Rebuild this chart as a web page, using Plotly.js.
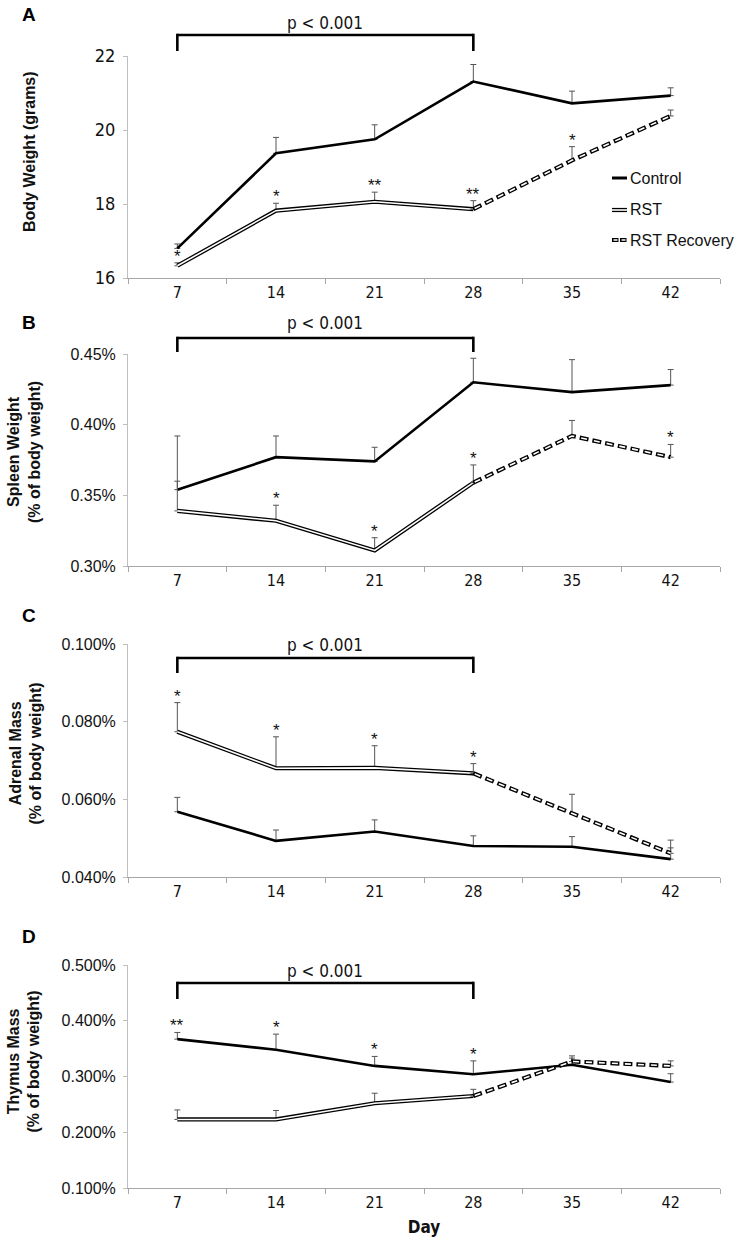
<!DOCTYPE html>
<html>
<head>
<meta charset="utf-8">
<script src="https://cdn.plot.ly/plotly-3.0.1.min.js"></script>
<style>
  html, body { margin: 0; padding: 0; background: #fff; }
  #chart { width: 738px; height: 1240px; }
</style>
</head>
<body>
<div id="chart"></div>
<script>
// Days on the x axis; RST runs to day 28, recovery from 28 on
const days = ['7', '14', '21', '28', '35', '42'];
const rstDays = ['7', '14', '21', '28'];
const recDays = ['28', '35', '42'];

// A - body weight (grams), mean and upper SEM
const bwControl = [16.80, 19.37, 19.75, 21.31, 20.72, 20.93];
const bwControlErr = [0.12, 0.43, 0.39, 0.46, 0.33, 0.21];
const bwRst = [16.33, 17.82, 18.06, 17.86];
const bwRstErr = [0.08, 0.20, 0.26, 0.23];
const bwRec = [17.86, 19.18, 20.38];
const bwRecErr = [null, 0.37, 0.16];
const bwStarRst = ['*', '*', '**', '**'];
const bwStarRec = ['', '*', ''];
const bwStarControl = ['', '', '', '', '', ''];

// B - spleen weight (% of body weight)
const spControl = [0.354, 0.377, 0.374, 0.430, 0.423, 0.428];
const spControlErr = [0.038, 0.015, 0.010, 0.017, 0.023, 0.011];
const spRst = [0.339, 0.332, 0.311, 0.359];
const spRstErr = [0.021, 0.011, 0.009, 0.0125];
const spRec = [0.359, 0.392, 0.377];
const spRecErr = [null, 0.011, 0.009];
const spStarRst = ['', '*', '*', '*'];
const spStarRec = ['', '', '*'];
const spStarControl = ['', '', '', '', '', ''];

// C - adrenal mass (% of body weight)
const adControl = [0.0568, 0.0493, 0.0517, 0.0480, 0.0478, 0.0446];
const adControlErr = [0.0037, 0.0028, 0.0030, 0.0026, 0.0026, 0.0029];
const adRst = [0.0774, 0.0680, 0.0681, 0.0667];
const adRstErr = [0.0075, 0.0081, 0.0057, 0.0025];
const adRec = [0.0667, 0.0565, 0.0461];
const adRecErr = [null, 0.0048, 0.0034];
const adStarRst = ['*', '*', '*', '*'];
const adStarRec = ['', '', ''];
const adStarControl = ['', '', '', '', '', ''];

// D - thymus mass (% of body weight)
const thControl = [0.367, 0.348, 0.319, 0.304, 0.321, 0.290];
const thControlErr = [0.012, 0.028, 0.017, 0.024, 0.012, 0.015];
const thRst = [0.223, 0.223, 0.252, 0.265];
const thRstErr = [0.017, 0.016, 0.018, 0.012];
const thRec = [0.265, 0.327, 0.319];
const thRecErr = [null, 0.010, 0.009];
const thStarRst = ['', '', '', ''];
const thStarRec = ['', '', ''];
const thStarControl = ['**', '*', '*', '*', '', ''];

const seriesNames = ['Control', 'RST', 'RST Recovery'];

const W = 738, H = 1240;
const M = { l: 128, r: 18, t: 56, b: 52 };
const plotW = W - M.l - M.r;
const plotH = H - M.t - M.b;
const px = p => (p - M.l) / plotW;          // pixel x -> paper
const py = p => (H - M.b - p) / plotH;       // pixel y -> paper

const narrow = '"Liberation Sans Narrow", "Arial Narrow", "DejaVu Sans Condensed", sans-serif';
const arial = '"Liberation Sans", Arial, sans-serif';
const ink = '#111';
const axisGray = '#a6a6a6';
const errGray = '#555';

const panels = [
  { letter: 'A', top: 56, bottom: 278, range: [16, 22], dtick: 2, fmt: 'd', suffix: '',
    tickFont: { family: narrow, size: 18, color: ink },
    title: 'Body Weight (grams)', titleX: -98, titleDy: 15, letterDy: 42,
    bracket: [21, 5], pDy: 33,
    ctrl: bwControl, ctrlErr: bwControlErr, rst: bwRst, rstErr: bwRstErr, rec: bwRec, recErr: bwRecErr,
    starC: bwStarControl, starR: bwStarRst, starV: bwStarRec },
  { letter: 'B', top: 354, bottom: 566, range: [0.30, 0.45], dtick: 0.05, fmt: '.2f', suffix: '%',
    tickFont: { family: arial, size: 16, color: ink },
    title: 'Spleen Weight<br>(% of body weight)', titleX: -104, titleDy: 8, letterDy: 32,
    bracket: [16, 2], pDy: 31,
    ctrl: spControl, ctrlErr: spControlErr, rst: spRst, rstErr: spRstErr, rec: spRec, recErr: spRecErr,
    starC: spStarControl, starR: spStarRst, starV: spStarRec },
  { letter: 'C', top: 644, bottom: 877, range: [0.04, 0.10], dtick: 0.02, fmt: '.3f', suffix: '%',
    tickFont: { family: arial, size: 16, color: ink },
    title: 'Adrenal Mass<br>(% of body weight)', titleX: -103, titleDy: 7, letterDy: 29,
    bracket: [-14, -29], pDy: -1,
    ctrl: adControl, ctrlErr: adControlErr, rst: adRst, rstErr: adRstErr, rec: adRec, recErr: adRecErr,
    starC: adStarControl, starR: adStarRst, starV: adStarRec },
  { letter: 'D', top: 965, bottom: 1188, range: [0.1, 0.5], dtick: 0.1, fmt: '.3f', suffix: '%',
    tickFont: { family: arial, size: 16, color: ink },
    title: 'Thymus Mass<br>(% of body weight)', titleX: -105, titleDy: 15, letterDy: 28,
    bracket: [-18, -34], pDy: -6,
    ctrl: thControl, ctrlErr: thControlErr, rst: thRst, rstErr: thRstErr, rec: thRec, recErr: thRecErr,
    starC: thStarControl, starR: thStarRst, starV: thStarRec }
];

function errBars(arr) {
  return {
    type: 'data', symmetric: false, array: arr,
    arrayminus: arr.map(v => (v == null ? null : 0)),
    color: errGray, thickness: 1, width: 3
  };
}

const traces = [];
const layout = {
  width: W, height: H, margin: M,
  paper_bgcolor: '#fff', plot_bgcolor: '#fff',
  showlegend: false,
  font: { family: arial, color: ink },
  annotations: [], shapes: []
};

panels.forEach((p, i) => {
  const s = i === 0 ? '' : String(i + 1);
  const xa = 'x' + s, ya = 'y' + s;

  traces.push({
    x: days, y: p.ctrl, xaxis: xa, yaxis: ya, type: 'scatter', mode: 'lines',
    line: { color: '#000', width: 2.6 }, error_y: errBars(p.ctrlErr), hoverinfo: 'skip'
  });
  // RST: outlined double line
  traces.push({
    x: rstDays, y: p.rst, xaxis: xa, yaxis: ya, type: 'scatter', mode: 'lines',
    line: { color: '#000', width: 4.2 }, error_y: errBars(p.rstErr), hoverinfo: 'skip'
  });
  traces.push({
    x: rstDays, y: p.rst, xaxis: xa, yaxis: ya, type: 'scatter', mode: 'lines',
    line: { color: '#fff', width: 1.6 }, hoverinfo: 'skip'
  });
  // RST recovery: hollow dashes
  traces.push({
    x: recDays, y: p.rec, xaxis: xa, yaxis: ya, type: 'scatter', mode: 'lines',
    line: { color: '#000', width: 4.2, dash: '9px,4px' }, error_y: errBars(p.recErr), hoverinfo: 'skip'
  });
  traces.push({
    x: recDays, y: p.rec, xaxis: xa, yaxis: ya, type: 'scatter', mode: 'lines',
    line: { color: '#fff', width: 1.6, dash: '0px,1.5px,6px,5.5px' }, hoverinfo: 'skip'
  });

  const dom = [py(p.bottom), py(p.top)];
  layout['xaxis' + s] = {
    domain: [0, 1], anchor: ya, type: 'category', range: [-0.5, days.length - 0.5],
    tickson: 'boundaries', ticks: 'outside', ticklen: 5, tickcolor: axisGray,
    showline: true, linecolor: axisGray, linewidth: 1,
    showgrid: false, zeroline: false, fixedrange: true,
    tickfont: { family: narrow, size: 16, color: ink }
  };
  layout['yaxis' + s] = {
    domain: dom, anchor: xa, range: p.range, dtick: p.dtick,
    tickformat: p.fmt, ticksuffix: p.suffix,
    ticks: 'outside', ticklen: 4, tickcolor: '#bfbfbf', ticklabelstandoff: 4,
    showline: true, linecolor: '#bfbfbf', linewidth: 1,
    showgrid: false, zeroline: false, fixedrange: true,
    tickfont: p.tickFont
  };

  // y title and panel letter
  layout.annotations.push({
    text: '<b>' + p.title + '</b>', xref: xa + ' domain', yref: ya + ' domain',
    x: 0, y: 0.5, xshift: p.titleX, yshift: p.titleDy, textangle: -90,
    xanchor: 'center', yanchor: 'middle',
    showarrow: false, font: { family: arial, size: 16, color: ink }
  });
  layout.annotations.push({
    text: '<b>' + p.letter + '</b>', xref: xa + ' domain', yref: ya + ' domain',
    x: 0, y: 1, xshift: -99, yshift: p.letterDy, xanchor: 'center', yanchor: 'middle',
    showarrow: false, font: { family: arial, size: 19, color: '#000' }
  });

  // p < 0.001 bracket over days 7-28
  const b0 = (days.indexOf('7') + 0.5) / days.length;
  const b1 = (days.indexOf('28') + 0.5) / days.length;
  const br = { color: '#000', width: 2.6 };
  const common = { type: 'line', xref: xa + ' domain', yref: ya + ' domain', ysizemode: 'pixel', yanchor: 1, line: br };
  layout.shapes.push(Object.assign({ x0: b0, x1: b1, y0: p.bracket[0], y1: p.bracket[0] }, common));
  layout.shapes.push(Object.assign({ x0: b0, x1: b0, y0: p.bracket[0] + 1.3, y1: p.bracket[1] }, common));
  layout.shapes.push(Object.assign({ x0: b1, x1: b1, y0: p.bracket[0] + 1.3, y1: p.bracket[1] }, common));
  layout.annotations.push({
    text: 'p &lt; 0.001', xref: xa + ' domain', yref: ya + ' domain',
    x: (b0 + b1) / 2, y: 1, yshift: p.pDy, xanchor: 'center', yanchor: 'middle',
    showarrow: false, font: { family: narrow, size: 17, color: ink }
  });

  // significance stars above the error bars (category index as x)
  const addStars = (xs, ys, es, marks) => {
    marks.forEach((m, k) => {
      if (!m) return;
      layout.annotations.push({
        text: m, xref: xa, yref: ya, x: days.indexOf(xs[k]), y: ys[k] + (es[k] || 0),
        xanchor: 'center', yanchor: 'bottom', yshift: -5, showarrow: false,
        font: { family: arial, size: 17, color: ink }
      });
    });
  };
  addStars(days, p.ctrl, p.ctrlErr, p.starC);
  addStars(rstDays, p.rst, p.rstErr, p.starR);
  addStars(recDays, p.rec, p.recErr, p.starV);
});

layout.xaxis4.title = { text: '<b>Day</b>', standoff: 9, font: { family: narrow, size: 17, color: ink } };

// legend drawn by hand so the double and hollow-dash samples match the lines
const legRows = [178, 210, 240];
const lx0 = px(612), lx1 = px(627);
const legShape = (yp, color, width, dash) => ({
  type: 'line', xref: 'paper', yref: 'paper', x0: lx0, x1: lx1, y0: py(yp), y1: py(yp),
  line: { color, width, dash: dash || 'solid' }
});
layout.shapes.push(legShape(legRows[0], '#000', 3));
layout.shapes.push(legShape(legRows[1], '#000', 4.2));
layout.shapes.push(legShape(legRows[1], '#fff', 1.6));
layout.shapes.push(legShape(legRows[2], '#000', 4.2, '6.5px,1.5px'));
layout.shapes.push(legShape(legRows[2], '#fff', 1.6, '0px,1.5px,4px,2.5px'));
seriesNames.forEach((name, k) => {
  layout.annotations.push({
    text: name, xref: 'paper', yref: 'paper', x: px(628), y: py(legRows[k]),
    xanchor: 'left', yanchor: 'middle', showarrow: false,
    font: { family: arial, size: 16, color: ink }
  });
});

Plotly.newPlot('chart', traces, layout, { displayModeBar: false, staticPlot: true });
</script>
</body>
</html>
